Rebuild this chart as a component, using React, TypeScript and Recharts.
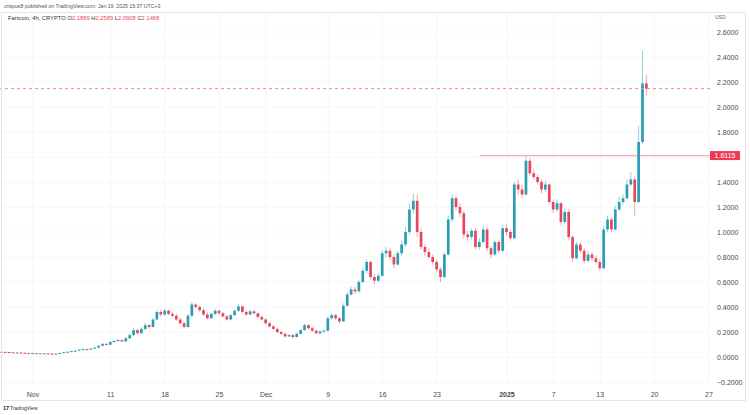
import React from "react";
import {
  ComposedChart,
  Bar,
  Line,
  XAxis,
  YAxis,
  CartesianGrid,
  ReferenceLine,
} from "recharts";

// 12h candles, day offset from Nov 1 (0 = Nov 1 00:00)
const START_DAY = -4;
const STEP_DAYS = 0.5;
const FIRST_OPEN = 0.042;

const closes = [
  0.041, 0.040, 0.037, 0.033, 0.036, 0.034, 0.031, 0.030, 0.031, 0.029,
  0.027, 0.029, 0.026, 0.024, 0.027, 0.033, 0.038, 0.042, 0.047, 0.050,
  0.058, 0.063, 0.060, 0.068, 0.075, 0.090, 0.105, 0.098, 0.120, 0.128,
  0.135, 0.125, 0.150, 0.175, 0.215, 0.190, 0.225, 0.255, 0.240, 0.300,
  0.360, 0.340, 0.370, 0.345, 0.330, 0.300, 0.270, 0.240, 0.330, 0.420,
  0.400, 0.375, 0.340, 0.310, 0.345, 0.370, 0.350, 0.325, 0.300, 0.335,
  0.370, 0.405, 0.360, 0.340, 0.365, 0.350, 0.320, 0.300, 0.270, 0.245,
  0.225, 0.200, 0.185, 0.165, 0.175, 0.160, 0.185, 0.215, 0.255, 0.230,
  0.210, 0.190, 0.205, 0.210, 0.310, 0.335, 0.310, 0.285, 0.410, 0.500,
  0.540, 0.525, 0.600, 0.690, 0.760, 0.640, 0.610, 0.650, 0.830, 0.850,
  0.800, 0.740, 0.830, 0.900, 1.000, 1.180, 1.250, 1.000, 0.880, 0.840,
  0.800, 0.760, 0.700, 0.640, 0.820, 1.100, 1.270, 1.200, 1.150, 0.980,
  0.960, 1.010, 0.880, 0.920, 1.020, 0.870, 0.820, 0.920, 0.850, 1.030,
  1.000, 0.950, 1.380, 1.340, 1.300, 1.570, 1.470, 1.440, 1.400, 1.340,
  1.380, 1.240, 1.180, 1.230, 1.080, 1.160, 0.960, 0.790, 0.900, 0.850,
  0.770, 0.820, 0.790, 0.760, 0.710, 1.020, 1.100, 1.020, 1.180, 1.240,
  1.270, 1.380, 1.420, 1.240, 1.720, 2.1889, 2.1468,
];

const highs = [
  0.044, 0.043, 0.041, 0.038, 0.037, 0.038, 0.035, 0.033, 0.033, 0.032,
  0.030, 0.030, 0.030, 0.027, 0.028, 0.034, 0.040, 0.044, 0.049, 0.053,
  0.060, 0.066, 0.066, 0.071, 0.079, 0.094, 0.112, 0.110, 0.126, 0.136,
  0.145, 0.142, 0.158, 0.190, 0.235, 0.225, 0.240, 0.275, 0.265, 0.310,
  0.375, 0.380, 0.385, 0.380, 0.360, 0.345, 0.315, 0.285, 0.345, 0.440,
  0.430, 0.410, 0.390, 0.355, 0.355, 0.385, 0.380, 0.360, 0.335, 0.345,
  0.380, 0.425, 0.410, 0.375, 0.380, 0.375, 0.355, 0.330, 0.310, 0.280,
  0.255, 0.235, 0.210, 0.195, 0.185, 0.185, 0.195, 0.225, 0.265, 0.260,
  0.240, 0.220, 0.215, 0.225, 0.325, 0.350, 0.345, 0.320, 0.430, 0.520,
  0.565, 0.560, 0.620, 0.715, 0.780, 0.770, 0.660, 0.670, 0.850, 0.880,
  0.870, 0.820, 0.850, 0.930, 1.040, 1.230, 1.310, 1.300, 1.030, 0.900,
  0.870, 0.820, 0.780, 0.720, 0.840, 1.130, 1.300, 1.290, 1.230, 1.170,
  1.010, 1.030, 1.030, 0.950, 1.050, 1.040, 0.890, 0.940, 0.940, 1.060,
  1.060, 1.020, 1.400, 1.420, 1.380, 1.6115, 1.590, 1.500, 1.460, 1.420,
  1.410, 1.390, 1.260, 1.260, 1.240, 1.190, 1.180, 0.980, 0.920, 0.920,
  0.870, 0.850, 0.840, 0.810, 0.780, 1.050, 1.130, 1.120, 1.210, 1.280,
  1.300, 1.420, 1.480, 1.450, 1.850, 2.450, 2.2589,
];

const lows = [
  0.039, 0.038, 0.035, 0.032, 0.032, 0.033, 0.030, 0.029, 0.029, 0.028,
  0.026, 0.026, 0.025, 0.023, 0.023, 0.026, 0.032, 0.036, 0.040, 0.045,
  0.048, 0.055, 0.057, 0.058, 0.065, 0.072, 0.088, 0.092, 0.095, 0.114,
  0.122, 0.118, 0.120, 0.145, 0.170, 0.180, 0.185, 0.215, 0.225, 0.235,
  0.295, 0.325, 0.330, 0.335, 0.315, 0.290, 0.260, 0.225, 0.235, 0.320,
  0.385, 0.360, 0.330, 0.300, 0.305, 0.335, 0.340, 0.315, 0.290, 0.295,
  0.330, 0.360, 0.350, 0.330, 0.335, 0.340, 0.310, 0.290, 0.260, 0.235,
  0.215, 0.190, 0.175, 0.155, 0.160, 0.150, 0.155, 0.180, 0.210, 0.220,
  0.200, 0.180, 0.180, 0.195, 0.205, 0.300, 0.295, 0.270, 0.280, 0.400,
  0.490, 0.505, 0.515, 0.590, 0.670, 0.620, 0.580, 0.595, 0.640, 0.800,
  0.780, 0.710, 0.730, 0.810, 0.880, 0.980, 1.150, 0.960, 0.860, 0.810,
  0.780, 0.740, 0.680, 0.600, 0.630, 0.810, 1.080, 1.170, 1.120, 0.950,
  0.930, 0.940, 0.860, 0.860, 0.910, 0.850, 0.790, 0.810, 0.830, 0.840,
  0.970, 0.930, 0.940, 1.300, 1.270, 1.290, 1.450, 1.420, 1.380, 1.310,
  1.320, 1.220, 1.150, 1.160, 1.050, 1.060, 0.940, 0.760, 0.780, 0.830,
  0.750, 0.760, 0.770, 0.740, 0.690, 0.700, 1.000, 1.000, 1.010, 1.170,
  1.220, 1.260, 1.370, 1.130, 1.230, 1.700, 2.0908,
];

const xTickDays = [0, 10, 17, 24, 30, 38, 45, 52, 61, 67, 73, 80, 87];
const xTickLabels = ["Nov", "11", "18", "25", "Dec", "9", "16", "23", "2025", "7", "13", "20", "27"];
const yTicks = [-0.2, 0, 0.2, 0.4, 0.6, 0.8, 1.0, 1.2, 1.4, 1.8, 2.0, 2.2, 2.4, 2.6];
const gridTicks = [-0.2, 0, 0.2, 0.4, 0.6, 0.8, 1.0, 1.2, 1.4, 1.6, 1.8, 2.0, 2.2, 2.4, 2.6];

const RESISTANCE = 1.6115;
const RESISTANCE_FROM_DAY = 57.5;
const LAST_PRICE = 2.1468;
const X_MIN = -4.25;
const X_MAX = 87.13;

const resistanceLine = [
  { day: RESISTANCE_FROM_DAY, level: RESISTANCE },
  { day: X_MAX, level: RESISTANCE },
];

const UP = "#2a9db5";
const DOWN = "#e3485c";
const UP_WICK = "#96d0da";
const DOWN_WICK = "#f0a5ae";
const BODY_W = 2.7;

const data = closes.map((c, i) => {
  const o = i === 0 ? FIRST_OPEN : closes[i - 1];
  return {
    day: START_DAY + i * STEP_DAYS,
    open: o,
    close: c,
    high: highs[i],
    low: lows[i],
    range: [lows[i], highs[i]],
  };
});

const Candle = (props: any) => {
  const { x, y, width, height, payload } = props;
  if (!payload) return null;
  const { open, close, high, low } = payload;
  const top = Math.min(y, y + height);
  const h = Math.abs(height);
  const span = high - low;
  const py = (v: number) => (span === 0 ? top : top + ((high - v) / span) * h);
  const up = close >= open;
  const bTop = py(Math.max(open, close));
  const bBot = py(Math.min(open, close));
  const cx = x + width / 2;
  return (
    <g>
      <line x1={cx} x2={cx} y1={top} y2={top + h} stroke={up ? UP_WICK : DOWN_WICK} strokeWidth={1} />
      <rect
        x={cx - BODY_W / 2}
        y={bTop}
        width={BODY_W}
        height={Math.max(1, bBot - bTop)}
        fill={up ? UP : DOWN}
      />
    </g>
  );
};

const font = "Liberation Sans, Arial, sans-serif";

const XTick = (props: any) => {
  const { x, y, payload } = props;
  const idx = xTickDays.indexOf(payload.value);
  const label = idx >= 0 ? xTickLabels[idx] : "";
  return (
    <text
      x={x}
      y={y + 10}
      textAnchor="middle"
      fontSize={7}
      fontFamily={font}
      fontWeight={label === "2025" ? 700 : 400}
      fill="#4a4a4a"
    >
      {label}
    </text>
  );
};

const fmt = (v: number) => (v < 0 ? "\u2212" + Math.abs(v).toFixed(4) : v.toFixed(4));

const YTick = (props: any) => {
  const { x, y, payload } = props;
  return (
    <text x={x + 5} y={y + 2.5} textAnchor="start" fontSize={7} fontFamily={font} fill="#4a4a4a">
      {fmt(payload.value)}
    </text>
  );
};

const PriceTag = (props: any) => {
  const vb = props.viewBox || {};
  const x0 = (vb.x || 0) + (vb.width || 0);
  const y0 = vb.y || 0;
  return (
    <g>
      <rect x={x0} y={y0 - 4.5} width={30} height={9} fill="#ee3b52" />
      <text x={x0 + 15} y={y0 + 2.5} textAnchor="middle" fontSize={7} fontFamily={font} fill="#ffffff">
        {RESISTANCE.toFixed(4)}
      </text>
    </g>
  );
};

export default function App() {
  return (
    <div
      style={{
        position: "fixed",
        left: 0,
        top: 0,
        width: 750,
        height: 415,
        background: "#ffffff",
        overflow: "hidden",
      }}
    >
      <ComposedChart
        width={750}
        height={415}
        data={data}
        margin={{ top: 12, right: 0, left: 0, bottom: 0 }}
      >
        <CartesianGrid stroke="#f5f6f8" horizontalValues={gridTicks} verticalValues={xTickDays} />
        <XAxis
          dataKey="day"
          type="number"
          domain={[X_MIN, X_MAX]}
          allowDataOverflow
          ticks={xTickDays}
          tick={<XTick />}
          tickLine={false}
          axisLine={false}
          tickSize={0}
          height={30}
          interval={0}
        />
        <YAxis
          orientation="right"
          type="number"
          domain={[-0.224, 2.76]}
          allowDataOverflow
          ticks={yTicks}
          tick={<YTick />}
          tickLine={false}
          axisLine={false}
          tickSize={0}
          width={40}
          interval={0}
        />
        <ReferenceLine y={LAST_PRICE} stroke="#e8909b" strokeDasharray="3 3" strokeWidth={1} />
        <Line
          data={resistanceLine}
          dataKey="level"
          stroke="#f25c6e"
          strokeOpacity={0.5}
          strokeWidth={1.2}
          dot={false}
          activeDot={false}
          isAnimationActive={false}
        />
        <ReferenceLine y={RESISTANCE} stroke="#ffffff" strokeOpacity={0} label={<PriceTag />} />
        <Bar dataKey="range" barSize={3} shape={<Candle />} isAnimationActive={false} />
      </ComposedChart>
      <svg
        width={750}
        height={415}
        style={{ position: "absolute", left: 0, top: 0, pointerEvents: "none" }}
      >
        <rect x={1.5} y={12.5} width={744} height={388} fill="none" stroke="#e3e5ea" strokeWidth={1} />
        <text x={4} y={8} fontSize={5.2} fontFamily={font} fill="#555">
          crispus8 published on TradingView.com, Jan 19, 2025 15:37 UTC+3
        </text>
        <text x={8} y={20} fontSize={5.8} fontFamily={font} fill="#333">
          <tspan>Fartcoin, 4h, CRYPTO  O</tspan>
          <tspan fill="#e8485b">2.1889</tspan>
          <tspan> H</tspan>
          <tspan fill="#e8485b">2.2589</tspan>
          <tspan> L</tspan>
          <tspan fill="#e8485b">2.0908</tspan>
          <tspan> C</tspan>
          <tspan fill="#e8485b">2.1468</tspan>
        </text>
        <text x={715} y={19} fontSize={5} fontFamily={font} fill="#666">
          USD
        </text>
        <text x={3} y={410} fontSize={5.5} fontFamily={font} fill="#222" fontWeight={700}>
          17
        </text>
        <text x={10} y={410} fontSize={5} fontFamily={font} fill="#333">
          TradingView
        </text>
      </svg>
    </div>
  );
}
